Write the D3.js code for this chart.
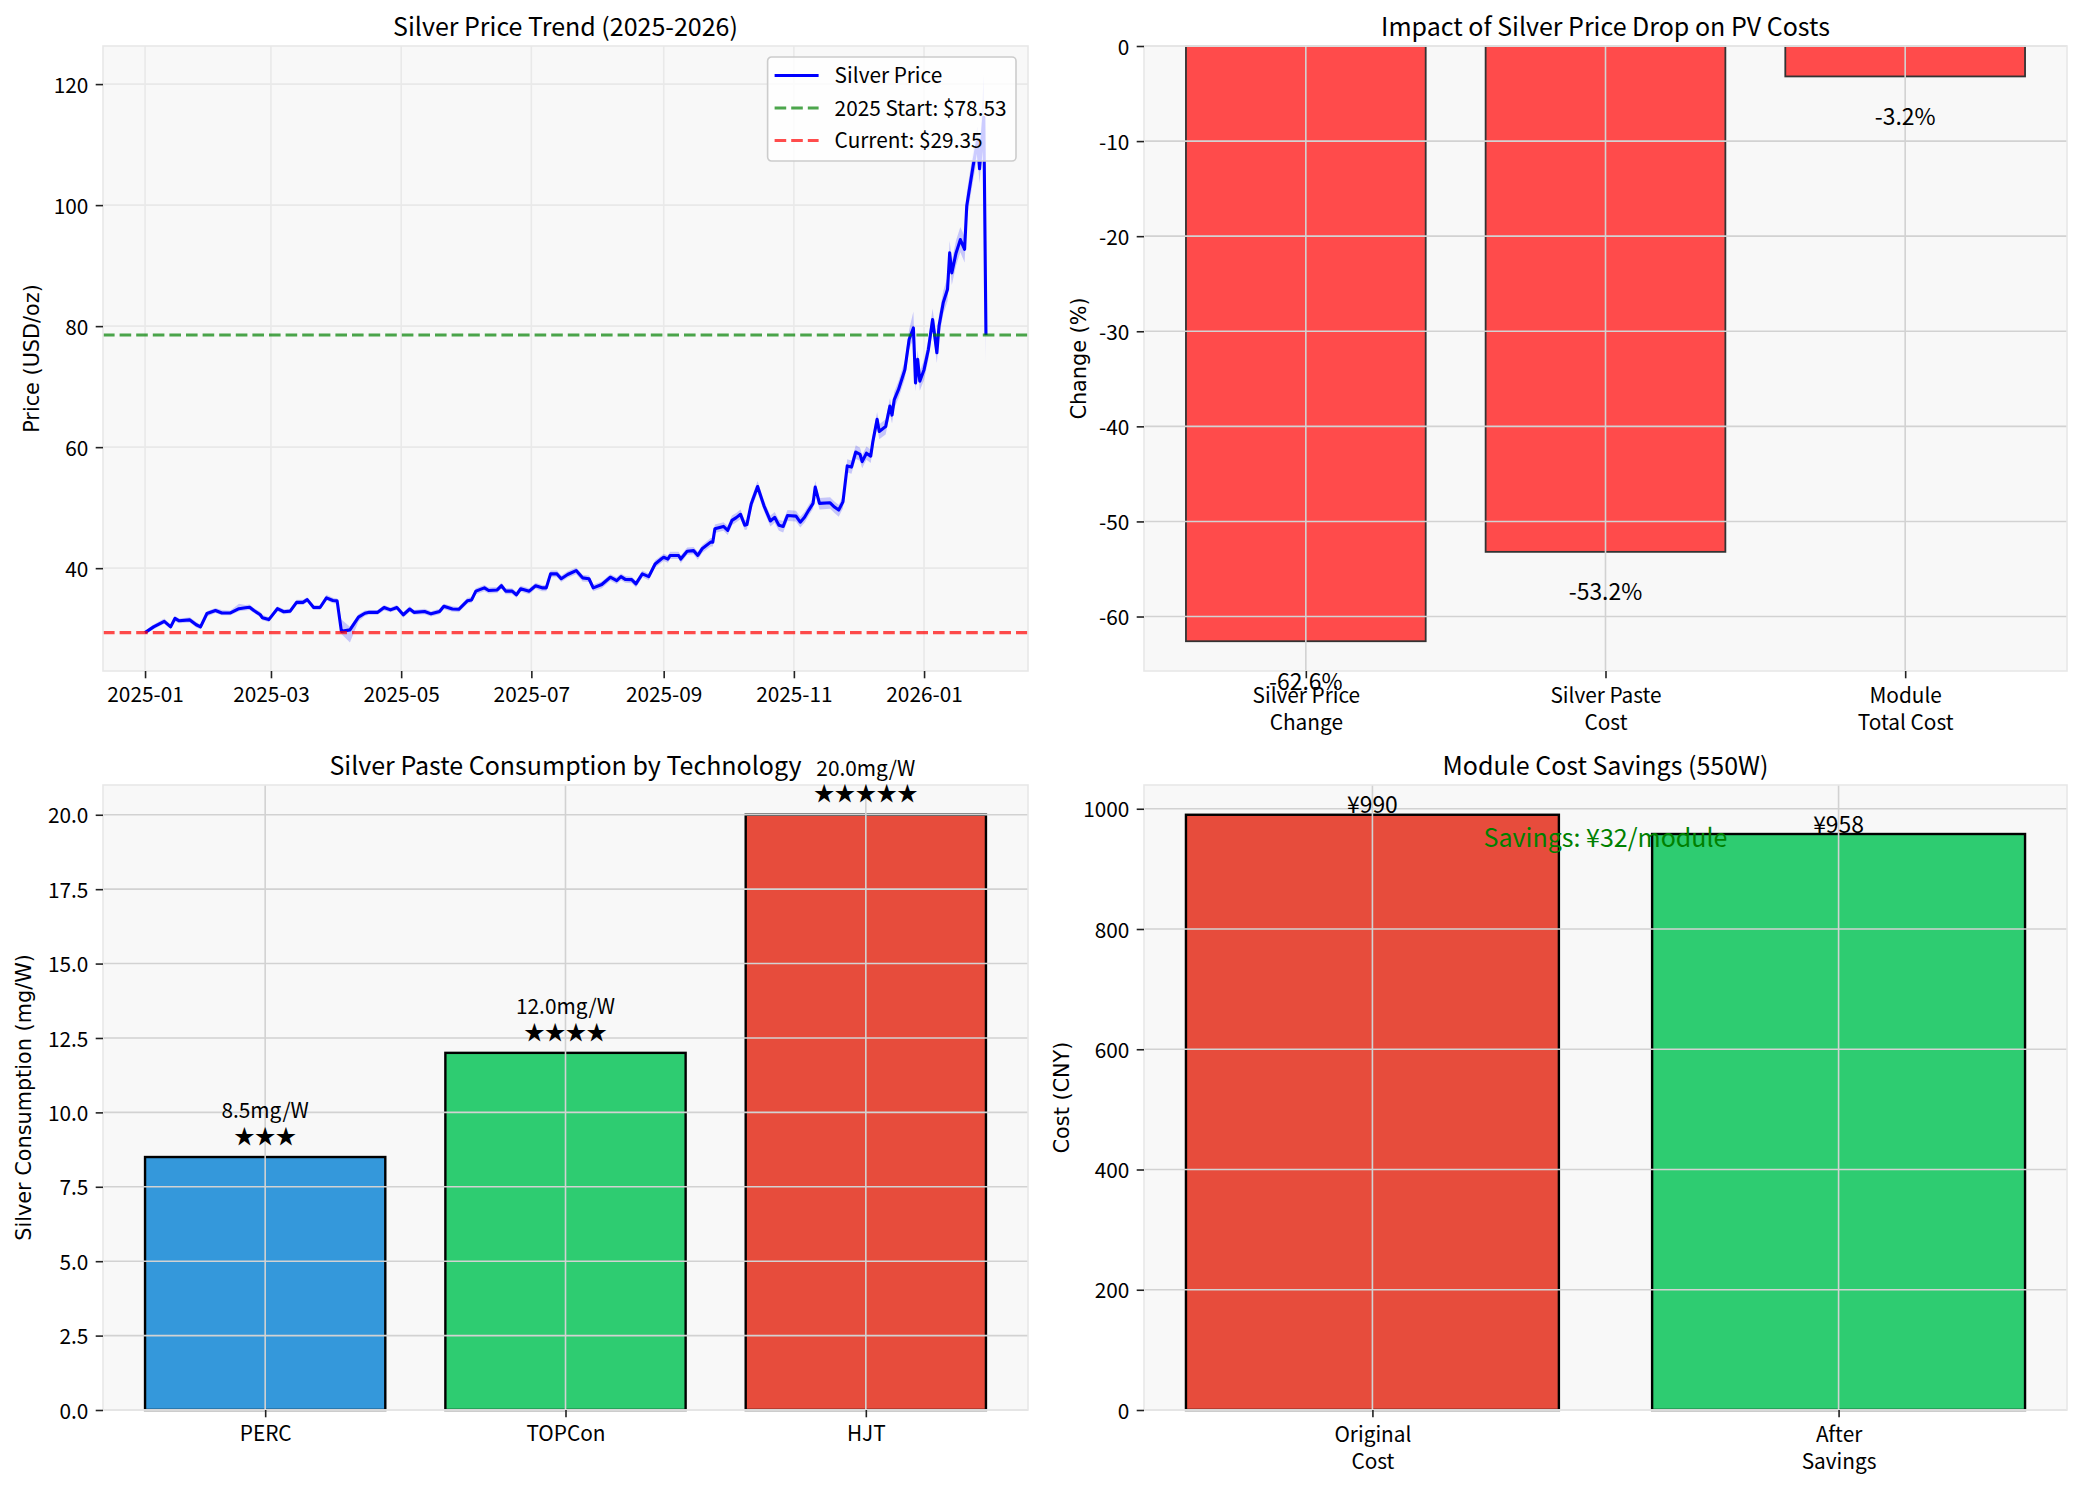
<!DOCTYPE html>
<html><head><meta charset="utf-8">
<script src="https://cdn.jsdelivr.net/npm/d3@7"></script>
<style>body{margin:0;background:#fff}svg{display:block}</style>
</head><body><svg id="c" width="2083" height="1487"></svg>
<script>
// ---------- Panel 1: silver price series ----------
const dates = [
"2025-01-01","2025-01-05","2025-01-10","2025-01-13","2025-01-15","2025-01-17","2025-01-22","2025-01-25","2025-01-27","2025-01-30",
"2025-02-03","2025-02-06","2025-02-10","2025-02-14","2025-02-17","2025-02-19","2025-02-21","2025-02-24","2025-02-25","2025-02-28",
"2025-03-04","2025-03-07","2025-03-10","2025-03-13","2025-03-16","2025-03-18","2025-03-21","2025-03-24","2025-03-27","2025-03-30",
"2025-04-01","2025-04-03","2025-04-07","2025-04-11","2025-04-14","2025-04-16","2025-04-20","2025-04-23","2025-04-26","2025-04-29",
"2025-05-02","2025-05-05","2025-05-07","2025-05-12","2025-05-15","2025-05-19","2025-05-21","2025-05-25","2025-05-28","2025-06-01",
"2025-06-03","2025-06-05","2025-06-09","2025-06-11","2025-06-15","2025-06-17","2025-06-19","2025-06-22","2025-06-24","2025-06-26",
"2025-06-30","2025-07-03","2025-07-06","2025-07-08","2025-07-10","2025-07-13","2025-07-15","2025-07-18","2025-07-22","2025-07-25",
"2025-07-28","2025-07-30","2025-08-03","2025-08-07","2025-08-10","2025-08-12","2025-08-14","2025-08-17","2025-08-19","2025-08-22",
"2025-08-25","2025-08-28","2025-08-31","2025-09-01","2025-09-03","2025-09-04","2025-09-08","2025-09-09","2025-09-12","2025-09-15",
"2025-09-17","2025-09-19","2025-09-23","2025-09-24","2025-09-25","2025-09-29","2025-10-01","2025-10-03","2025-10-05","2025-10-07",
"2025-10-09","2025-10-10","2025-10-12","2025-10-15","2025-10-18","2025-10-21","2025-10-23","2025-10-25","2025-10-27","2025-10-29",
"2025-11-02","2025-11-04","2025-11-06","2025-11-08","2025-11-10","2025-11-11","2025-11-13","2025-11-18","2025-11-20","2025-11-22",
"2025-11-24","2025-11-26","2025-11-28","2025-11-30","2025-12-02","2025-12-03","2025-12-05","2025-12-07","2025-12-08","2025-12-10",
"2025-12-11","2025-12-14","2025-12-16","2025-12-17","2025-12-18","2025-12-20","2025-12-23","2025-12-25","2025-12-27","2025-12-28",
"2025-12-29","2025-12-30","2026-01-01","2026-01-03","2026-01-05","2026-01-07","2026-01-08","2026-01-10","2026-01-12","2026-01-13",
"2026-01-14","2026-01-16","2026-01-18","2026-01-20","2026-01-21","2026-01-24","2026-01-26","2026-01-27","2026-01-29","2026-01-30"];
const closePrice = [
29.35,30.3,31.2,30.3,31.7,31.3,31.45,30.65,30.3,32.5,
33.0,32.6,32.6,33.3,33.45,33.55,33.0,32.3,31.8,31.5,
33.3,32.8,32.9,34.35,34.35,34.8,33.5,33.5,35.1,34.65,
34.6,29.55,29.8,31.9,32.55,32.7,32.7,33.5,33.1,33.5,
32.3,33.25,32.7,32.85,32.45,32.85,33.7,33.25,33.2,34.6,
34.75,36.2,36.75,36.3,36.4,37.1,36.2,36.2,35.6,36.6,
36.2,37.1,36.75,36.75,39.05,39.05,38.25,38.95,39.6,38.4,
38.25,36.75,37.3,38.5,37.95,38.6,38.15,38.1,37.4,39.05,
38.6,40.7,41.55,41.8,41.5,42.1,42.1,41.5,42.8,42.9,
42.1,43.2,44.3,44.3,46.5,46.9,46.25,47.9,48.35,48.9,
47.1,47.2,50.6,53.5,50.3,47.8,48.4,47.1,46.9,48.7,
48.6,47.6,48.4,49.6,50.7,53.4,50.7,50.8,50.1,49.6,
50.95,56.9,56.7,59.2,58.8,57.6,59.0,58.5,60.9,64.6,
62.6,63.4,66.8,65.3,67.8,69.5,72.8,77.8,79.7,70.6,
74.5,70.9,72.8,76.1,81.1,75.6,80.0,83.9,86.1,92.1,
88.8,92.1,94.3,92.7,99.9,106.5,110.5,106.0,114.5,78.53];
const highPrice = [
29.6,30.7,31.7,30.7,32.1,31.7,31.9,31.1,30.7,32.9,
33.4,33.1,33.0,34.1,33.9,34.0,33.4,32.8,32.3,31.9,
33.7,33.2,33.3,34.8,34.8,35.2,33.9,33.9,35.6,35.1,
35.0,31.5,30.3,32.4,33.0,33.1,33.1,33.9,33.5,33.9,
32.7,33.7,33.1,33.3,32.9,33.3,34.1,33.7,33.6,35.1,
35.2,36.7,37.2,36.8,36.9,37.6,36.7,36.7,36.1,37.1,
36.7,37.6,37.2,37.2,39.6,39.6,38.8,39.5,40.1,38.9,
38.8,37.3,37.8,39.0,38.5,39.1,38.7,38.6,37.9,39.6,
39.1,41.3,42.1,42.4,42.1,42.7,42.7,42.1,43.4,43.5,
42.7,43.8,45.0,45.0,47.2,47.6,47.0,48.7,49.1,49.7,
47.9,48.0,51.5,54.4,51.2,48.7,49.3,48.0,47.8,49.6,
49.5,48.5,49.3,50.5,51.6,54.4,51.6,51.7,51.0,50.5,
51.9,58.0,57.8,60.3,59.9,58.7,60.1,59.6,62.1,65.8,
63.8,64.6,68.1,66.6,69.1,70.9,74.3,79.4,82.4,72.6,
76.1,72.5,74.4,77.8,82.9,77.3,81.8,85.8,88.1,94.1,
90.8,94.2,96.4,94.8,102.1,108.9,113.0,108.4,121.6,80.5];
const lowPrice = [
29.1,29.9,30.8,29.9,31.2,30.9,31.0,30.2,29.9,32.0,
32.6,32.2,32.2,32.9,33.0,33.1,32.6,31.9,31.4,31.1,
32.9,32.4,32.5,33.9,33.9,34.4,33.1,33.1,34.7,34.2,
34.1,29.1,27.7,31.2,32.1,32.3,32.3,33.0,32.7,33.1,
31.8,32.8,32.3,32.4,32.0,32.4,33.2,32.8,32.7,34.1,
34.3,35.7,36.2,35.8,35.9,36.6,35.7,35.7,35.1,36.1,
35.7,36.6,36.2,36.2,38.5,38.5,37.7,38.4,39.0,37.8,
37.7,36.2,36.7,37.9,37.4,38.0,37.6,37.5,36.8,38.5,
38.0,40.1,40.9,41.2,40.9,41.5,41.5,40.8,42.2,42.3,
41.4,42.5,43.6,43.6,45.8,46.2,45.5,47.1,47.6,48.1,
46.3,46.4,49.7,52.5,49.4,46.9,47.5,46.2,45.9,47.8,
47.7,46.7,47.5,48.7,49.8,52.4,49.7,49.8,49.1,48.5,
49.9,55.8,55.6,58.1,57.7,56.5,57.9,57.4,59.7,63.3,
61.3,62.1,65.4,63.9,66.4,68.1,71.3,76.1,77.9,69.2,
72.9,69.3,71.1,74.4,79.3,73.9,78.2,82.0,84.1,90.1,
86.8,90.0,92.2,90.5,97.7,104.1,108.0,103.6,111.8,74.0];
const startLineValue = 78.53;
const currentLineValue = 29.35;
const legendLabels = ["Silver Price", "2025 Start: $78.53", "Current: $29.35"];
const dateTicks = ["2025-01-01","2025-03-01","2025-05-01","2025-07-01","2025-09-01","2025-11-01","2026-01-01"];
const priceTicks = [40, 60, 80, 100, 120];

// ---------- Panel 2: impact ----------
const impactCats = [["Silver Price","Change"],["Silver Paste","Cost"],["Module","Total Cost"]];
const impactVals = [-62.6, -53.2, -3.2];
const impactTicks = [0, -10, -20, -30, -40, -50, -60];

// ---------- Panel 3: consumption ----------
const techCats = ["PERC", "TOPCon", "HJT"];
const techVals = [8.5, 12.0, 20.0];
const techStars = [3, 4, 5];
const techColors = ["#3498db", "#2ecc71", "#e74c3c"];
const techTicks = [0, 2.5, 5, 7.5, 10, 12.5, 15, 17.5, 20];

// ---------- Panel 4: module cost ----------
const costCats = [["Original","Cost"],["After","Savings"]];
const costVals = [990, 958];
const costColors = ["#e74c3c", "#2ecc71"];
const costTicks = [0, 200, 400, 600, 800, 1000];
const savingsText = "Savings: ¥32/module";

// ---------- layout ----------
const FONT = "'Noto Sans CJK SC','Noto Sans',sans-serif";
const LFONT = "'DejaVu Sans',sans-serif";
const FS = 20.8;
const P = {
  tl: {l:103, r:1028, t:46, b:671},
  tr: {l:1144, r:2067, t:46, b:671},
  bl: {l:103, r:1028, t:785, b:1410},
  br: {l:1144, r:2067, t:785, b:1410}
};
const plain = d => String(d);
const svg = d3.select('#c');
svg.append('rect').attr('width',2083).attr('height',1487).attr('fill','#fff');

function bg(p){
  svg.append('rect').attr('x',p.l).attr('y',p.t).attr('width',p.r-p.l).attr('height',p.b-p.t).attr('fill','#f8f8f8');
}
function spines(p){
  svg.append('rect').attr('x',p.l).attr('y',p.t).attr('width',p.r-p.l).attr('height',p.b-p.t)
    .attr('fill','none').attr('stroke','#e8e8e8').attr('stroke-width',1.6);
}
function gridY(p, y, ticks, color){
  svg.append('g').selectAll('line').data(ticks).join('line')
    .attr('x1',p.l).attr('x2',p.r).attr('y1',d=>y(d)).attr('y2',d=>y(d))
    .attr('stroke',color).attr('stroke-width',1.6);
}
function gridX(p, xs, color){
  svg.append('g').selectAll('line').data(xs).join('line')
    .attr('x1',d=>d).attr('x2',d=>d).attr('y1',p.t).attr('y2',p.b)
    .attr('stroke',color).attr('stroke-width',1.6);
}
function styleAxis(a){
  a.attr('font-family',FONT).attr('font-size',FS);
  a.select('.domain').remove();
  a.selectAll('.tick line').attr('stroke','#222').attr('stroke-width',1.6);
  a.selectAll('.tick text').attr('fill','#000');
}
function leftAxis(p, y, ticks, fmt){
  const a = svg.append('g').attr('transform',`translate(${p.l},0)`)
    .call(d3.axisLeft(y).tickValues(ticks).tickFormat(fmt).tickSize(7.3).tickPadding(7.3).tickSizeOuter(0));
  styleAxis(a);
  a.selectAll('.tick text').attr('dy','0.39em');
}
function bottomAxis(p, x, ticks, fmt, lines){
  const a = svg.append('g').attr('transform',`translate(0,${p.b})`)
    .call(d3.axisBottom(x).tickValues(ticks).tickFormat(fmt).tickSize(7.3).tickPadding(7.3).tickSizeOuter(0));
  styleAxis(a);
  a.selectAll('.tick text').attr('dy','0.8em');
  if (lines){
    a.selectAll('.tick text').each(function(d,i){
      const t = d3.select(this); t.text(null).attr('dy',null);
      lines[i].forEach((ln,k)=>t.append('tspan').attr('x',0).attr('dy',k===0?'0.84em':'1.28em').text(ln));
    });
  }
}
function title(p, txt){
  svg.append('text').attr('x',(p.l+p.r)/2).attr('y',p.t-10).attr('text-anchor','middle')
    .attr('font-family',FONT).attr('font-size',25).attr('fill','#000').text(txt);
}
function ylabel(p, off, txt){
  svg.append('text').attr('transform',`translate(${p.l-off},${(p.t+p.b)/2}) rotate(-90)`)
    .attr('text-anchor','middle').attr('font-family',LFONT).attr('font-size',FS).attr('fill','#000').text(txt);
}

// ================= Panel 1 =================
(function(){
  const p = P.tl;
  const parse = d3.timeParse('%Y-%m-%d');
  const data = dates.map((d,i)=>({t:parse(d), c:closePrice[i], h:highPrice[i], l:lowPrice[i]}));
  const t0 = data[0].t, t1 = data[data.length-1].t;
  const span = t1 - t0;
  const x = d3.scaleTime().domain([new Date(+t0 - span*0.05), new Date(+t1 + span*0.05)]).range([p.l, p.r]);
  const ymin = d3.min(lowPrice), ymax = d3.max(highPrice), yr = ymax - ymin;
  const y = d3.scaleLinear().domain([ymin - yr*0.05, ymax + yr*0.05]).range([p.b, p.t]);
  const xt = dateTicks.map(parse);
  bg(p);
  gridY(p, y, priceTicks, '#e9e9e9');
  gridX(p, xt.map(x), '#e9e9e9');
  svg.append('path').datum(data)
    .attr('d', d3.area().x(d=>x(d.t)).y0(d=>y(d.l)).y1(d=>y(d.h)))
    .attr('fill','#0000ff').attr('fill-opacity',0.2);
  svg.append('path').datum(data)
    .attr('d', d3.line().x(d=>x(d.t)).y(d=>y(d.c)))
    .attr('fill','none').attr('stroke','#0000ff').attr('stroke-width',3.1).attr('stroke-linejoin','round');
  const hl = [[startLineValue,'#008000'],[currentLineValue,'#ff0000']];
  hl.forEach(([v,c])=>{
    svg.append('line').attr('x1',p.l).attr('x2',p.r).attr('y1',y(v)).attr('y2',y(v))
      .attr('stroke',c).attr('stroke-opacity',0.7).attr('stroke-width',3.1).attr('stroke-dasharray','11.6,5');
  });
  spines(p);
  leftAxis(p, y, priceTicks, plain);
  bottomAxis(p, x, xt, d3.timeFormat('%Y-%m'));
  title(p, 'Silver Price Trend (2025-2026)');
  ylabel(p, 64, 'Price (USD/oz)');
  // legend
  const lg = svg.append('g');
  const box = lg.append('rect').attr('rx',4).attr('fill','#fff').attr('fill-opacity',0.8)
    .attr('stroke','#cccccc').attr('stroke-width',1.6);
  const styles = [['#0000ff',1,null],['#008000',0.7,'11.6,5'],['#ff0000',0.7,'11.6,5']];
  let maxW = 0;
  const texts = legendLabels.map((lab,i)=>{
    const t = lg.append('text').attr('y', 26 + i*32.5).attr('font-family',FONT).attr('font-size',FS).attr('fill','#000').text(lab);
    maxW = Math.max(maxW, t.node().getComputedTextLength());
    return t;
  });
  const bw = 67 + maxW + 9.5, bh = 104;
  const bx = p.r - 12 - bw, by = p.t + 11;
  lg.attr('transform',`translate(${bx},${by})`);
  box.attr('width',bw).attr('height',bh);
  texts.forEach(t=>t.attr('x',67));
  styles.forEach(([c,o,da],i)=>{
    const ln = lg.append('line').attr('x1',7).attr('x2',51).attr('y1',18.5+i*32.5).attr('y2',18.5+i*32.5)
      .attr('stroke',c).attr('stroke-opacity',o).attr('stroke-width',3.1);
    if (da) ln.attr('stroke-dasharray',da);
  });
})();

// ================= Panel 2 =================
(function(){
  const p = P.tr;
  const n = impactVals.length;
  const x = d3.scaleLinear().domain([-0.4 - (n-0.2)*0.05, n-0.6 + (n-0.2)*0.05]).range([p.l, p.r]);
  const vmin = d3.min(impactVals);
  const y = d3.scaleLinear().domain([vmin + vmin*0.05, 0]).range([p.b, p.t]);
  bg(p);
  svg.append('g').selectAll('rect').data(impactVals).join('rect')
    .attr('x',(d,i)=>x(i-0.4)).attr('width',(d,i)=>x(i+0.4)-x(i-0.4))
    .attr('y',y(0)).attr('height',d=>y(d)-y(0))
    .attr('fill','#ff4b4b').attr('stroke','#333').attr('stroke-width',1.8);
  gridY(p, y, impactTicks, '#d2d2d2');
  gridX(p, impactVals.map((d,i)=>x(i)), '#d2d2d2');
  spines(p);
  leftAxis(p, y, impactTicks, plain);
  bottomAxis(p, x, d3.range(n), ()=>'', impactCats);
  svg.append('g').selectAll('text').data(impactVals).join('text')
    .attr('x',(d,i)=>x(i)).attr('y',d=>y(d-3)+0.74*22.9+3).attr('text-anchor','middle')
    .attr('font-family',FONT).attr('font-size',22.9).attr('fill','#000').text(d=>d.toFixed(1)+'%');
  title(p, 'Impact of Silver Price Drop on PV Costs');
  ylabel(p, 58, 'Change (%)');
})();

// ================= Panel 3 =================
(function(){
  const p = P.bl;
  const n = techVals.length;
  const x = d3.scaleLinear().domain([-0.4 - (n-0.2)*0.05, n-0.6 + (n-0.2)*0.05]).range([p.l, p.r]);
  const y = d3.scaleLinear().domain([0, d3.max(techVals)*1.05]).range([p.b, p.t]);
  bg(p);
  svg.append('g').selectAll('rect').data(techVals).join('rect')
    .attr('x',(d,i)=>x(i-0.4)).attr('width',(d,i)=>x(i+0.4)-x(i-0.4))
    .attr('y',d=>y(d)).attr('height',d=>y(0)-y(d))
    .attr('fill',(d,i)=>techColors[i]).attr('stroke','#000').attr('stroke-width',2.4);
  gridY(p, y, techTicks, '#d2d2d2');
  gridX(p, techVals.map((d,i)=>x(i)), '#d2d2d2');
  spines(p);
  leftAxis(p, y, techTicks, d3.format('.1f'));
  bottomAxis(p, x, d3.range(n), i=>techCats[i]);
  techVals.forEach((v,i)=>{
    const base = y(v+0.3) - 0.21*FS;
    const t = svg.append('text').attr('x',x(i)).attr('text-anchor','middle')
      .attr('font-family',FONT).attr('font-size',FS).attr('fill','#000');
    t.append('tspan').attr('x',x(i)).attr('y',base-1.24*FS).text(v.toFixed(1)+'mg/W');
    t.append('tspan').attr('x',x(i)).attr('y',base).text('★'.repeat(techStars[i]));
  });
  title(p, 'Silver Paste Consumption by Technology');
  ylabel(p, 72, 'Silver Consumption (mg/W)');
})();

// ================= Panel 4 =================
(function(){
  const p = P.br;
  const n = costVals.length;
  const x = d3.scaleLinear().domain([-0.4 - (n-0.2)*0.05, n-0.6 + (n-0.2)*0.05]).range([p.l, p.r]);
  const y = d3.scaleLinear().domain([0, d3.max(costVals)*1.05]).range([p.b, p.t]);
  bg(p);
  svg.append('g').selectAll('rect').data(costVals).join('rect')
    .attr('x',(d,i)=>x(i-0.4)).attr('width',(d,i)=>x(i+0.4)-x(i-0.4))
    .attr('y',d=>y(d)).attr('height',d=>y(0)-y(d))
    .attr('fill',(d,i)=>costColors[i]).attr('stroke','#000').attr('stroke-width',2.4);
  gridY(p, y, costTicks, '#d2d2d2');
  gridX(p, costVals.map((d,i)=>x(i)), '#d2d2d2');
  spines(p);
  leftAxis(p, y, costTicks, plain);
  bottomAxis(p, x, d3.range(n), ()=>'', costCats);
  svg.append('g').selectAll('text').data(costVals).join('text')
    .attr('x',(d,i)=>x(i)).attr('y',d=>y(d)-1.5).attr('text-anchor','middle')
    .attr('font-family',FONT).attr('font-size',22.9).attr('fill','#000').text(d=>'¥'+d);
  svg.append('text').attr('x',x(0.5)).attr('y',y((costVals[0]+costVals[1])/2)+0.74*25+4)
    .attr('text-anchor','middle').attr('font-family',FONT).attr('font-size',25).attr('fill','#008000').text(savingsText);
  title(p, 'Module Cost Savings (550W)');
  ylabel(p, 75, 'Cost (CNY)');
})();
</script></body></html>
